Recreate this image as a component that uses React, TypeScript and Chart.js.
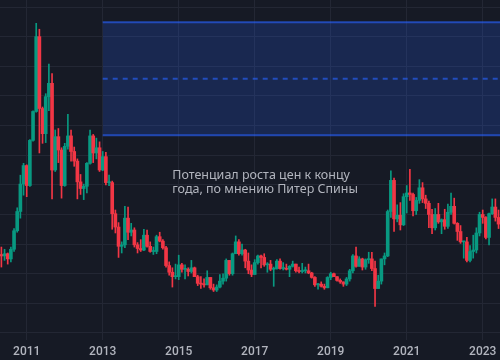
import React, { useEffect, useRef } from "react";
import { Chart, registerables } from "chart.js";

Chart.register(...registerables);

// Monthly silver candles, first candle = March 2010
const START_YEAR = 2010;
const START_MONTH = 2;

const OPEN = [
  16.5, 17.5, 18.6, 18.4, 18.7, 18.0, 19.3, 21.8, 24.4, 28.1,
  30.6, 27.9, 34.0, 37.9, 48.0, 38.3, 34.9, 39.9, 41.7, 30.0, 34.5, 32.7,
  27.9, 33.2, 34.6, 32.5, 31.2, 28.4, 27.5, 27.8, 30.9, 34.6, 32.3, 33.0,
  30.0, 31.8, 28.3, 28.3, 24.1, 22.3, 19.7, 19.9, 23.5, 21.6, 21.9, 19.9,
  19.4, 19.2, 21.2, 19.7, 19.0, 19.0, 21.0, 20.4, 19.5, 17.1, 16.2, 15.6,
  15.6, 17.2, 16.6, 16.6, 16.3, 16.8, 15.6, 14.7, 14.6, 14.5, 15.5, 14.1,
  13.8, 14.2, 15.0, 15.4, 17.8, 16.0, 18.7, 20.3, 18.7, 19.2, 17.7, 16.5,
  15.9, 17.5, 18.4, 18.2, 17.2, 17.3, 16.6, 16.7, 17.7, 16.7, 16.7, 16.6,
  17.0, 17.3, 16.4, 16.3, 16.4, 16.4, 16.1, 15.5, 14.5, 14.6, 14.3, 14.1,
  15.5, 16.0, 15.6, 15.1, 14.9, 14.6, 15.3, 16.4, 18.4, 17.0, 18.0, 16.9,
  17.9, 18.0, 16.7, 14.0, 15.0, 18.0, 18.4, 24.4, 28.6, 23.4, 23.9, 22.6,
  26.4, 26.9, 26.7, 24.5, 25.9, 27.6, 26.1, 25.5, 24.0, 22.2, 24.0, 23.0,
  23.3, 22.4, 24.3, 25.1, 22.8, 21.7, 20.3, 20.3, 17.8, 19.0, 19.2, 21.5,
  24.0, 23.6, 20.9, 24.1, 25.0, 23.6,
];

const HIGH = [
  17.7, 18.8, 19.6, 19.3, 18.8, 19.6, 22.1, 24.9, 29.3, 30.9,
  30.7, 34.1, 38.0, 49.8, 49.0, 38.5, 40.3, 44.3, 43.0, 35.4, 35.6, 33.0,
  33.6, 37.5, 35.4, 33.1, 31.5, 29.4, 28.1, 31.0, 35.4, 34.8, 34.3, 33.8,
  32.5, 32.4, 29.3, 28.5, 24.6, 22.9, 20.3, 25.1, 25.0, 22.8, 22.2, 20.2,
  20.6, 22.0, 21.9, 20.3, 19.6, 21.2, 21.6, 20.6, 19.7, 17.6, 16.8, 17.3,
  18.5, 17.4, 17.2, 16.8, 17.8, 16.9, 15.8, 15.6, 15.3, 16.4, 15.5, 14.6,
  14.5, 15.9, 16.0, 18.0, 17.8, 18.8, 21.1, 20.6, 20.0, 19.3, 18.8, 17.2,
  17.9, 18.5, 18.5, 18.7, 17.5, 17.8, 16.9, 17.9, 18.0, 17.5, 17.3, 17.1,
  17.7, 17.3, 16.9, 17.4, 16.9, 17.3, 16.2, 15.6, 14.7, 14.9, 14.6, 15.6,
  16.2, 16.1, 15.6, 15.3, 14.9, 15.5, 16.6, 18.6, 19.6, 18.3, 18.1, 18.0,
  18.9, 18.9, 17.7, 15.8, 18.0, 18.8, 24.6, 29.9, 28.9, 25.3, 25.6, 26.8,
  27.9, 30.1, 26.9, 26.3, 28.7, 28.3, 26.6, 25.8, 24.7, 24.8, 25.5, 23.4,
  24.7, 25.4, 26.9, 26.2, 22.9, 22.5, 20.4, 20.9, 19.8, 21.2, 22.2, 24.3,
  24.6, 23.7, 24.2, 26.1, 26.1, 24.6,
];

const LOW = [
  16.3, 17.4, 16.9, 17.8, 17.3, 17.6, 19.0, 21.6, 23.5, 26.6,
  26.4, 27.8, 33.9, 37.8, 32.3, 33.6, 33.7, 38.0, 26.1, 29.8, 31.0, 26.2,
  27.8, 32.8, 31.2, 30.5, 26.1, 26.7, 26.0, 26.9, 30.8, 31.0, 31.5, 29.8,
  29.9, 28.0, 27.9, 22.0, 21.5, 18.2, 18.8, 19.5, 20.6, 21.1, 19.6, 18.8,
  19.0, 19.1, 19.6, 18.9, 18.6, 18.7, 20.3, 19.3, 16.9, 15.8, 14.2, 15.3,
  15.2, 16.2, 15.3, 15.7, 16.1, 15.6, 14.4, 14.0, 14.2, 14.5, 13.9, 13.6,
  13.6, 14.1, 14.6, 15.0, 15.8, 15.8, 18.7, 18.5, 18.5, 16.8, 16.0, 15.6,
  15.9, 17.3, 16.8, 17.0, 16.2, 16.4, 14.3, 16.6, 16.6, 16.5, 16.5, 15.6,
  16.9, 16.2, 16.1, 16.1, 16.1, 16.0, 15.4, 14.3, 13.9, 14.2, 13.9, 14.1,
  15.2, 15.6, 15.0, 14.7, 14.3, 14.4, 15.0, 16.1, 16.9, 17.0, 16.5, 16.6,
  17.4, 16.4, 11.6, 14.0, 14.6, 17.2, 18.3, 23.6, 21.7, 23.0, 21.9, 22.5,
  24.2, 25.9, 23.8, 24.0, 25.5, 25.6, 24.8, 22.2, 21.4, 21.9, 22.8, 21.4,
  22.0, 22.1, 24.0, 22.7, 20.5, 20.1, 18.1, 17.6, 17.6, 18.1, 18.8, 21.1,
  22.8, 20.7, 19.9, 24.0, 23.1, 22.1,
];

const CLOSE = [
  17.5, 18.6, 18.4, 18.7, 18.0, 19.3, 21.8, 24.4, 28.1, 30.6,
  27.9, 34.0, 37.9, 48.0, 38.3, 34.9, 39.9, 41.7, 30.0, 34.5, 32.7, 27.9,
  33.2, 34.6, 32.5, 31.2, 28.4, 27.5, 27.8, 30.9, 34.6, 32.3, 33.0, 30.0,
  31.8, 28.3, 28.3, 24.1, 22.3, 19.7, 19.9, 23.5, 21.6, 21.9, 19.9, 19.4,
  19.2, 21.2, 19.7, 19.0, 19.0, 21.0, 20.4, 19.5, 17.1, 16.2, 15.6, 15.6,
  17.2, 16.6, 16.6, 16.3, 16.8, 15.6, 14.7, 14.6, 14.5, 15.5, 14.1, 13.8,
  14.2, 15.0, 15.4, 17.8, 16.0, 18.7, 20.3, 18.7, 19.2, 17.7, 16.5, 15.9,
  17.5, 18.4, 18.2, 17.2, 17.3, 16.6, 16.7, 17.7, 16.7, 16.7, 16.6, 17.0,
  17.3, 16.4, 16.3, 16.4, 16.4, 16.1, 15.5, 14.5, 14.6, 14.3, 14.1, 15.5,
  16.0, 15.6, 15.1, 14.9, 14.6, 15.3, 16.4, 18.4, 17.0, 18.0, 16.9, 17.9,
  18.0, 16.7, 14.0, 15.0, 18.0, 18.4, 24.4, 28.6, 23.4, 23.9, 22.6, 26.4,
  26.9, 26.7, 24.5, 25.9, 27.6, 26.1, 25.5, 24.0, 22.2, 24.0, 23.0, 23.3,
  22.4, 24.3, 25.1, 22.8, 21.7, 20.3, 20.3, 17.8, 19.0, 19.2, 21.5, 24.0,
  23.6, 20.9, 24.1, 25.0, 23.6, 22.7,
];

const X_TICKS = [2011, 2013, 2015, 2017, 2019, 2021, 2023];
const Y_TICKS = [8, 12, 16, 20, 24, 28, 32, 36, 40, 44, 48, 52];

// Forecast zone (price levels)
const ZONE_START = 2013;
const ZONE_END = 2024;
const ZONE_TOP = 49.95;
const ZONE_MID = 42.3;
const ZONE_BOTTOM = 34.7;

const NOTE_LINES = ["Потенциал роста цен к концу", "года, по мнению Питер Спины"];
const NOTE_X = 2014.83;
const NOTE_Y = 29.2;

const X_MIN = 2010.297;
const X_MAX = 2023.455;
const Y_MIN = 7.055;
const Y_MAX = 52.945;

const BG = "#161a25";
const GRID = "#232734";
const TEXT = "#b2b5be";
const UP = "#089981";
const DOWN = "#f23645";
const ZONE_LINE = "rgba(41,98,255,0.62)";
const ZONE_FILL = "rgba(41,98,255,0.2)";

export default function App() {
  const ref = useRef<HTMLCanvasElement | null>(null);

  useEffect(() => {
    const canvas = ref.current;
    if (!canvas) return;
    const xs = OPEN.map((_, i) => START_YEAR + (START_MONTH + i) / 12);
    const colors = OPEN.map((o, i) => (CLOSE[i] >= o ? UP : DOWN));
    const wicks = xs.map((x, i) => ({ x, y: [LOW[i], HIGH[i]] }));
    const bodies = xs.map((x, i) => ({ x, y: [OPEN[i], CLOSE[i]] }));

    const notePlugin = {
      id: "note",
      afterDatasetsDraw(chart: any) {
        const { ctx, scales } = chart;
        const px = scales.x.getPixelForValue(NOTE_X);
        const py = scales.y.getPixelForValue(NOTE_Y);
        ctx.save();
        ctx.font = '12.5px "Noto Sans"';
        ctx.fillStyle = TEXT;
        ctx.textBaseline = "middle";
        ctx.textAlign = "left";
        NOTE_LINES.forEach((t, i) => ctx.fillText(t, px, py + i * 14));
        ctx.restore();
      },
    };

    const chart = new Chart(canvas, {
      type: "bar",
      data: {
        datasets: [
          {
            type: "line",
            data: [{ x: ZONE_START, y: ZONE_TOP }, { x: ZONE_END, y: ZONE_TOP }],
            borderColor: ZONE_LINE,
            borderWidth: 2,
            pointRadius: 0,
            fill: false,
            order: 0,
          },
          {
            type: "line",
            data: [{ x: ZONE_START, y: ZONE_BOTTOM }, { x: ZONE_END, y: ZONE_BOTTOM }],
            borderColor: ZONE_LINE,
            backgroundColor: ZONE_FILL,
            borderWidth: 2,
            pointRadius: 0,
            fill: "-1",
            order: 0,
          },
          {
            type: "line",
            data: [{ x: ZONE_START, y: ZONE_MID }, { x: ZONE_END, y: ZONE_MID }],
            borderColor: ZONE_LINE,
            borderWidth: 2,
            borderDash: [5, 5],
            pointRadius: 0,
            fill: false,
            order: 0,
          },
          {
            type: "bar",
            data: wicks as any,
            backgroundColor: colors,
            borderWidth: 0,
            barThickness: 1,
            grouped: false,
            order: 2,
          },
          {
            type: "bar",
            data: bodies as any,
            backgroundColor: colors,
            borderWidth: 0,
            barThickness: 3,
            minBarLength: 1,
            grouped: false,
            order: 1,
          },
        ] as any,
      },
      options: {
        responsive: false,
        animation: false,
        devicePixelRatio: 1,
        layout: { padding: 0 },
        plugins: {
          legend: { display: false },
          tooltip: { enabled: false },
        },
        scales: {
          x: {
            type: "linear",
            min: X_MIN,
            max: X_MAX,
            offset: false,
            afterBuildTicks: (s: any) => {
              s.ticks = X_TICKS.map((v) => ({ value: v }));
            },
            afterFit: (s: any) => {
              s.height = 20;
              s.paddingLeft = 0;
              s.paddingRight = 0;
            },
            ticks: {
              callback: (v: any) => String(v),
              color: TEXT,
              font: { family: "Roboto", size: 12, weight: "500" },
              padding: 5,
              autoSkip: false,
              maxRotation: 0,
            },
            grid: { color: GRID, drawTicks: false, offset: false },
            border: { display: false },
          },
          y: {
            type: "linear",
            min: Y_MIN,
            max: Y_MAX,
            afterBuildTicks: (s: any) => {
              s.ticks = Y_TICKS.map((v) => ({ value: v }));
            },
            afterFit: (s: any) => {
              s.width = 0;
              s.paddingTop = 0;
              s.paddingBottom = 0;
            },
            ticks: { display: false },
            grid: { color: GRID, drawTicks: false },
            border: { display: false },
          },
        },
      } as any,
      plugins: [notePlugin],
    });
    return () => chart.destroy();
  }, []);

  return (
    <div style={{ position: "fixed", left: 0, top: 0, width: 500, height: 360, background: BG }}>
      <canvas ref={ref} width={500} height={360} style={{ display: "block" }} />
    </div>
  );
}
